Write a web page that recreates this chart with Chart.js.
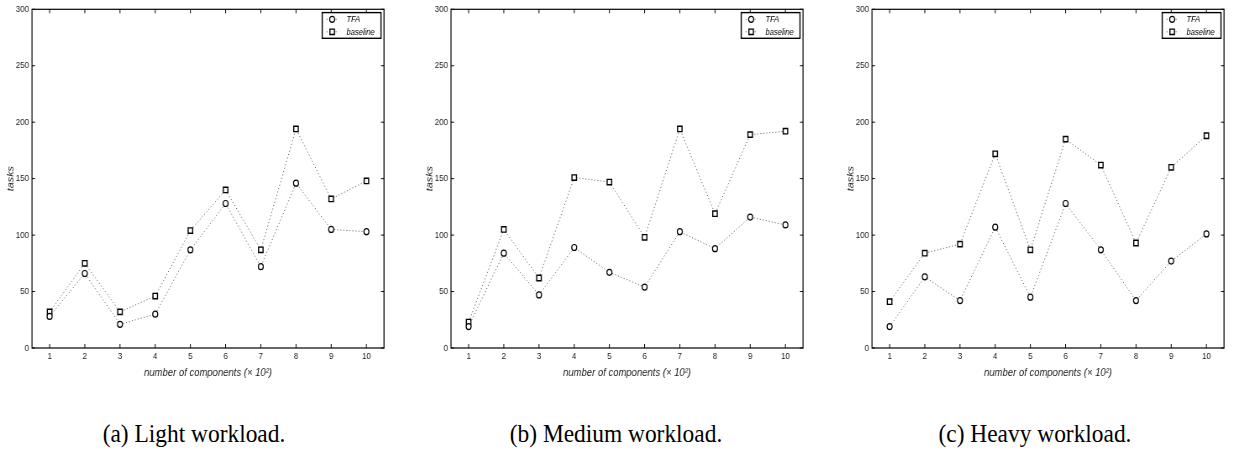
<!DOCTYPE html>
<html><head><meta charset="utf-8">
<script src="https://cdn.jsdelivr.net/npm/chart.js@4.4.1/dist/chart.umd.min.js"></script>
<style>
html,body{margin:0;padding:0;background:#fff;overflow:hidden;width:1236px;height:454px;position:relative;}
.panel{position:absolute;top:0;transform-origin:0 0;}
.cap{position:absolute;top:421px;width:400px;text-align:center;font-family:"Liberation Serif","Times New Roman",serif;font-size:26px;line-height:26px;color:#000;transform:scaleX(0.9);white-space:nowrap;}
</style></head><body>
<div class="panel" id="p0"><canvas id="c0" width="471" height="390"></canvas></div>
<div class="panel" id="p1"><canvas id="c1" width="471" height="390"></canvas></div>
<div class="panel" id="p2"><canvas id="c2" width="471" height="390"></canvas></div>
<div class="cap" id="cap0"></div>
<div class="cap" id="cap1"></div>
<div class="cap" id="cap2"></div>
<script>
// ---- data ----
const categories = ['1','2','3','4','5','6','7','8','9','10'];
const yTickValues = [0, 50, 100, 150, 200, 250, 300];
const seriesNames = ['TFA', 'baseline'];
const lightTFA = [28, 66, 21, 30, 87, 128, 72, 146, 105, 103];
const lightBaseline = [32, 75, 32, 46, 104, 140, 87, 194, 132, 148];
const mediumTFA = [19, 84, 47, 89, 67, 54, 103, 88, 116, 109];
const mediumBaseline = [23, 105, 62, 151, 147, 98, 194, 119, 189, 192];
const heavyTFA = [19, 63, 42, 107, 45, 128, 87, 42, 77, 101];
const heavyBaseline = [41, 84, 92, 172, 87, 185, 162, 93, 160, 188];
const captions = ['(a) Light workload.', '(b) Medium workload.', '(c) Heavy workload.'];
const xTitle = 'number of components (\u00d7 10\u00b2)';
const yTitle = 'tasks';

// ---- layout ----
const K = 0.84;                 // horizontal compression of the figure
const panelLeft = [0, 419.3, 840.3];
const captionCenter = [194, 616, 1035];

Chart.defaults.font.family = '"Liberation Sans", Arial, Helvetica, sans-serif';
Chart.defaults.color = '#222';

const framePlugin = {
  id: 'frame',
  afterDraw(chart) {
    const ctx = chart.ctx, ca = chart.chartArea;
    const xs = chart.scales.x, ys = chart.scales.y;
    ctx.save();
    ctx.strokeStyle = '#000';
    ctx.lineWidth = 1.2;
    ctx.setLineDash([]);
    ctx.strokeRect(ca.left, ca.top, ca.right - ca.left, ca.bottom - ca.top);
    ctx.lineWidth = 1;
    ctx.beginPath();
    xs.ticks.forEach((t, i) => {
      const px = xs.getPixelForTick(i);
      ctx.moveTo(px, ca.top); ctx.lineTo(px, ca.top + 4);
      ctx.moveTo(px, ca.bottom); ctx.lineTo(px, ca.bottom - 4);
    });
    ys.ticks.forEach(t => {
      const py = ys.getPixelForValue(t.value);
      ctx.moveTo(ca.left, py); ctx.lineTo(ca.left + 3.6, py);
      ctx.moveTo(ca.right, py); ctx.lineTo(ca.right - 3.6, py);
    });
    ctx.stroke();

    // legend box
    const boxW = 70, boxH = 25.7;
    const bx = ca.right - 3.6 - boxW, by = ca.top + 3.3;
    ctx.fillStyle = '#fff';
    ctx.fillRect(bx, by, boxW, boxH);
    ctx.lineWidth = 1.4;
    ctx.strokeStyle = '#000';
    ctx.strokeRect(bx, by, boxW, boxH);
    const rows = [by + 6.7, by + 19.2];
    chart.data.datasets.forEach((ds, i) => {
      const ry = rows[i];
      ctx.save();
      ctx.strokeStyle = ds.borderColor;
      ctx.lineWidth = ds.borderWidth;
      ctx.setLineDash(ds.borderDash);
      ctx.beginPath(); ctx.moveTo(bx + 5.2, ry); ctx.lineTo(bx + 19, ry); ctx.stroke();
      ctx.restore();
      ctx.save();
      ctx.setLineDash([]);
      ctx.strokeStyle = '#000';
      ctx.fillStyle = '#fff';
      ctx.lineWidth = ds.pointBorderWidth;
      const mx = bx + 11.9;
      ctx.beginPath();
      if (ds.pointStyle === 'circle') {
        ctx.arc(mx, ry, ds.pointRadius, 0, Math.PI * 2);
      } else {
        const s = Math.SQRT1_2 * ds.pointRadius;
        ctx.rect(mx - s, ry - s, 2 * s, 2 * s);
      }
      ctx.fill(); ctx.stroke();
      ctx.restore();
      ctx.fillStyle = '#000';
      ctx.font = 'italic 9px "Liberation Sans", Arial, Helvetica, sans-serif';
      ctx.textBaseline = 'middle';
      ctx.textAlign = 'left';
      ctx.fillText(ds.label, bx + 29, ry + 0.5);
    });
    ctx.restore();
  }
};

function makeChart(idx, tfa, base) {
  const wrap = document.getElementById('p' + idx);
  wrap.style.left = panelLeft[idx] + 'px';
  wrap.style.transform = 'scaleX(' + K + ')';
  const lineStyle = {borderColor: '#666', borderWidth: 1, borderDash: [1.2, 2.4], fill: false, tension: 0,
                     pointBorderColor: '#000', pointBackgroundColor: '#fff'};
  new Chart(document.getElementById('c' + idx), {
    type: 'line',
    data: {
      labels: categories,
      datasets: [
        Object.assign({label: seriesNames[0], data: tfa, pointStyle: 'circle', pointRadius: 3, pointBorderWidth: 1.2}, lineStyle),
        Object.assign({label: seriesNames[1], data: base, pointStyle: 'rect', pointRadius: 3.8, pointBorderWidth: 1.4}, lineStyle)
      ]
    },
    options: {
      responsive: false,
      animation: false,
      devicePixelRatio: 1,
      events: [],
      layout: {padding: {top: 6, right: 471 - (32 + 352) / K, bottom: 0, left: 0}},
      plugins: {legend: {display: false}, tooltip: {enabled: false}},
      scales: {
        x: {
          type: 'category',
          offset: true,
          grid: {display: false, drawTicks: false},
          border: {display: false},
          ticks: {padding: 3, font: {size: 9.5}, color: '#222', maxRotation: 0, autoSkip: false},
          title: {display: true, text: xTitle, font: {size: 11.3, style: 'italic'}, color: '#222', padding: {top: 0, bottom: 10.5}},
          afterFit(s) { s.height = 42; }
        },
        y: {
          min: 0, max: 300,
          grid: {display: false, drawTicks: false},
          border: {display: false},
          ticks: {padding: 3.6, font: {size: 9.5}, color: '#222'},
          afterBuildTicks(s) { s.ticks = yTickValues.map(v => ({value: v})); },
          title: {display: true, text: yTitle, font: {size: 10.8, style: 'italic'}, color: '#222', padding: {top: 6.6, bottom: 0}},
          afterFit(s) { s.width = 32 / K; }
        }
      }
    },
    plugins: [framePlugin]
  });
  const cap = document.getElementById('cap' + idx);
  cap.textContent = captions[idx];
  cap.style.left = (captionCenter[idx] - 200) + 'px';
}

makeChart(0, lightTFA, lightBaseline);
makeChart(1, mediumTFA, mediumBaseline);
makeChart(2, heavyTFA, heavyBaseline);
</script>
</body></html>
